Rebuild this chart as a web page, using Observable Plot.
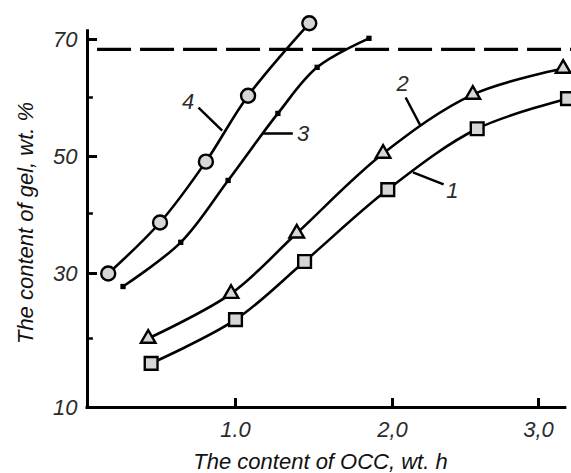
<!DOCTYPE html>
<html><head><meta charset="utf-8">
<script src="https://cdn.jsdelivr.net/npm/d3@7"></script>
<script src="https://cdn.jsdelivr.net/npm/@observablehq/plot@0.6"></script>
<style>body{margin:0;background:#fff} svg{display:block}</style>
</head><body><div id="chart"></div>
<script>
// Curve 1 (open squares)
const c1x = [0.43, 1.00, 1.44, 1.97, 2.58, 3.20];
const c1y = [16.4, 22.9, 32.0, 44.2, 54.7, 59.8];
// Curve 2 (open triangles)
const c2x = [0.41, 0.97, 1.39, 1.94, 2.55, 3.17];
const c2y = [20.0, 26.9, 36.7, 50.5, 60.5, 65.0];
// Curve 3 (small filled marks)
const c3x = [0.24, 0.63, 0.95, 1.27, 1.52, 1.85];
const c3y = [28.0, 35.2, 45.8, 57.3, 65.2, 70.2];
// Curve 4 (open circles)
const c4x = [0.14, 0.49, 0.80, 1.08, 1.47];
const c4y = [30.0, 38.5, 49.1, 60.3, 72.8];
// Horizontal dashed limit level
const limitLevel = [68.3];
// Axis ticks
const xTicks = [1, 2, 3];
const xTickLabels = ["1.0", "2,0", "3,0"];
const yTicks = [10, 30, 50, 70];
const yTickLabels = ["10", "30", "50", "70"];
const yMajorMarks = [30, 50, 70];
const yMinorMarks = [20, 40, 60];
// Curve number labels and leader lines (data units)
const curveNames = ["1", "2", "3", "4"];
const labelX = [2.41, 2.07, 1.43, 0.68];
const labelY = [44.0, 62.4, 53.9, 59.2];
const leadX1 = [2.14, 2.19, 1.17, 0.91];
const leadY1 = [47.2, 55.3, 53.9, 54.4];
const leadX2 = [2.35, 2.09, 1.365, 0.75];
const leadY2 = [45.1, 60.0, 53.9, 58.3];
const xTitle = "The content of OCC, wt. h";
const yTitle = "The content of gel, wt. %";

const pts = (xs, ys) => xs.map((x, i) => ({x, y: ys[i]}));
const s1 = pts(c1x, c1y), s2 = pts(c2x, c2y), s3 = pts(c3x, c3y), s4 = pts(c4x, c4y);

const font = "Liberation Sans, Arial, sans-serif";
const lineOpts = {x: "x", y: "y", curve: "catmull-rom", stroke: "#000", strokeWidth: 2.6};
const markOpts = {x: "x", y: "y", stroke: "#000", strokeWidth: 2.4, fill: "#d6d6d6"};

const chart = Plot.plot({
  width: 571,
  height: 473,
  marginLeft: 87, marginRight: 4, marginTop: 10, marginBottom: 66,
  x: {type: "linear", domain: [0, 1, 2, 3, 3.2], range: [87, 235, 392, 538, 567], axis: null},
  y: {type: "linear", domain: [10, 20, 30, 40, 50, 60, 70, 75], range: [407, 338, 273, 213, 156, 97, 39, 10], axis: null},
  marks: [
    Plot.ruleY(limitLevel, {x1: 0.068, x2: 3.23, stroke: "#000", strokeWidth: 3.2, strokeDasharray: "34,9"}),
    Plot.line(s1, lineOpts),
    Plot.line(s2, lineOpts),
    Plot.line(s3, lineOpts),
    Plot.line(s4, lineOpts),
    Plot.dot(s1, {...markOpts, symbol: "square", r: 7.2}),
    Plot.dot(s2, {...markOpts, symbol: "triangle", r: 5.4}),
    Plot.dot(s3, {x: "x", y: "y", symbol: "square", r: 3, fill: "#000", stroke: "none"}),
    Plot.dot(s4, {...markOpts, symbol: "circle", r: 7}),
    // axes
    Plot.ruleX([0], {y1: 10, y2: 71.7, stroke: "#000", strokeWidth: 3}),
    Plot.ruleY([10], {x1: 0, x2: 3.185, stroke: "#000", strokeWidth: 3, strokeLinecap: "square"}),
    Plot.ruleY(yMajorMarks, {x1: 0, x2: 0.068, stroke: "#000", strokeWidth: 3}),
    Plot.ruleY(yMinorMarks, {x1: 0, x2: 0.04, stroke: "#000", strokeWidth: 2.5}),
    Plot.ruleX(xTicks, {y1: 10, y2: 11.3, stroke: "#000", strokeWidth: 3}),
    Plot.text(yTicks, {x: 0, y: d => d, text: (d, i) => yTickLabels[i], dx: -10, textAnchor: "end",
      fontSize: 22, fontStyle: "italic", fontFamily: font, fill: "#2b2b2b"}),
    Plot.text(xTicks, {x: d => d, y: 10, text: (d, i) => xTickLabels[i], dy: 22,
      fontSize: 22, fontStyle: "italic", fontFamily: font, fill: "#2b2b2b"}),
    // curve labels
    Plot.link(curveNames, {x1: (d, i) => leadX1[i], y1: (d, i) => leadY1[i], x2: (d, i) => leadX2[i], y2: (d, i) => leadY2[i],
      stroke: "#000", strokeWidth: 2.5}),
    Plot.text(curveNames, {x: (d, i) => labelX[i], y: (d, i) => labelY[i], text: d => d,
      fontSize: 22, fontStyle: "italic", fontFamily: font, fill: "#2b2b2b"}),
    // axis titles
    Plot.text([yTitle], {frameAnchor: "left", textAnchor: "middle", lineAnchor: "middle", rotate: -90, dx: -62, dy: 14,
      text: d => d, ariaLabel: "axis-title",
      fontSize: 22, fontStyle: "italic", fontFamily: font, fill: "#111"}),
    Plot.text([xTitle], {frameAnchor: "bottom", textAnchor: "middle", lineAnchor: "middle", dx: -7, dy: 54,
      text: d => d, ariaLabel: "axis-title",
      fontSize: 22, fontStyle: "italic", fontFamily: font, fill: "#111"})
  ]
});
document.getElementById("chart").appendChild(chart);
d3.select(chart).selectAll('g[aria-label="axis-title"] text').style("letter-spacing", "1.7px");
</script>
</body></html>
